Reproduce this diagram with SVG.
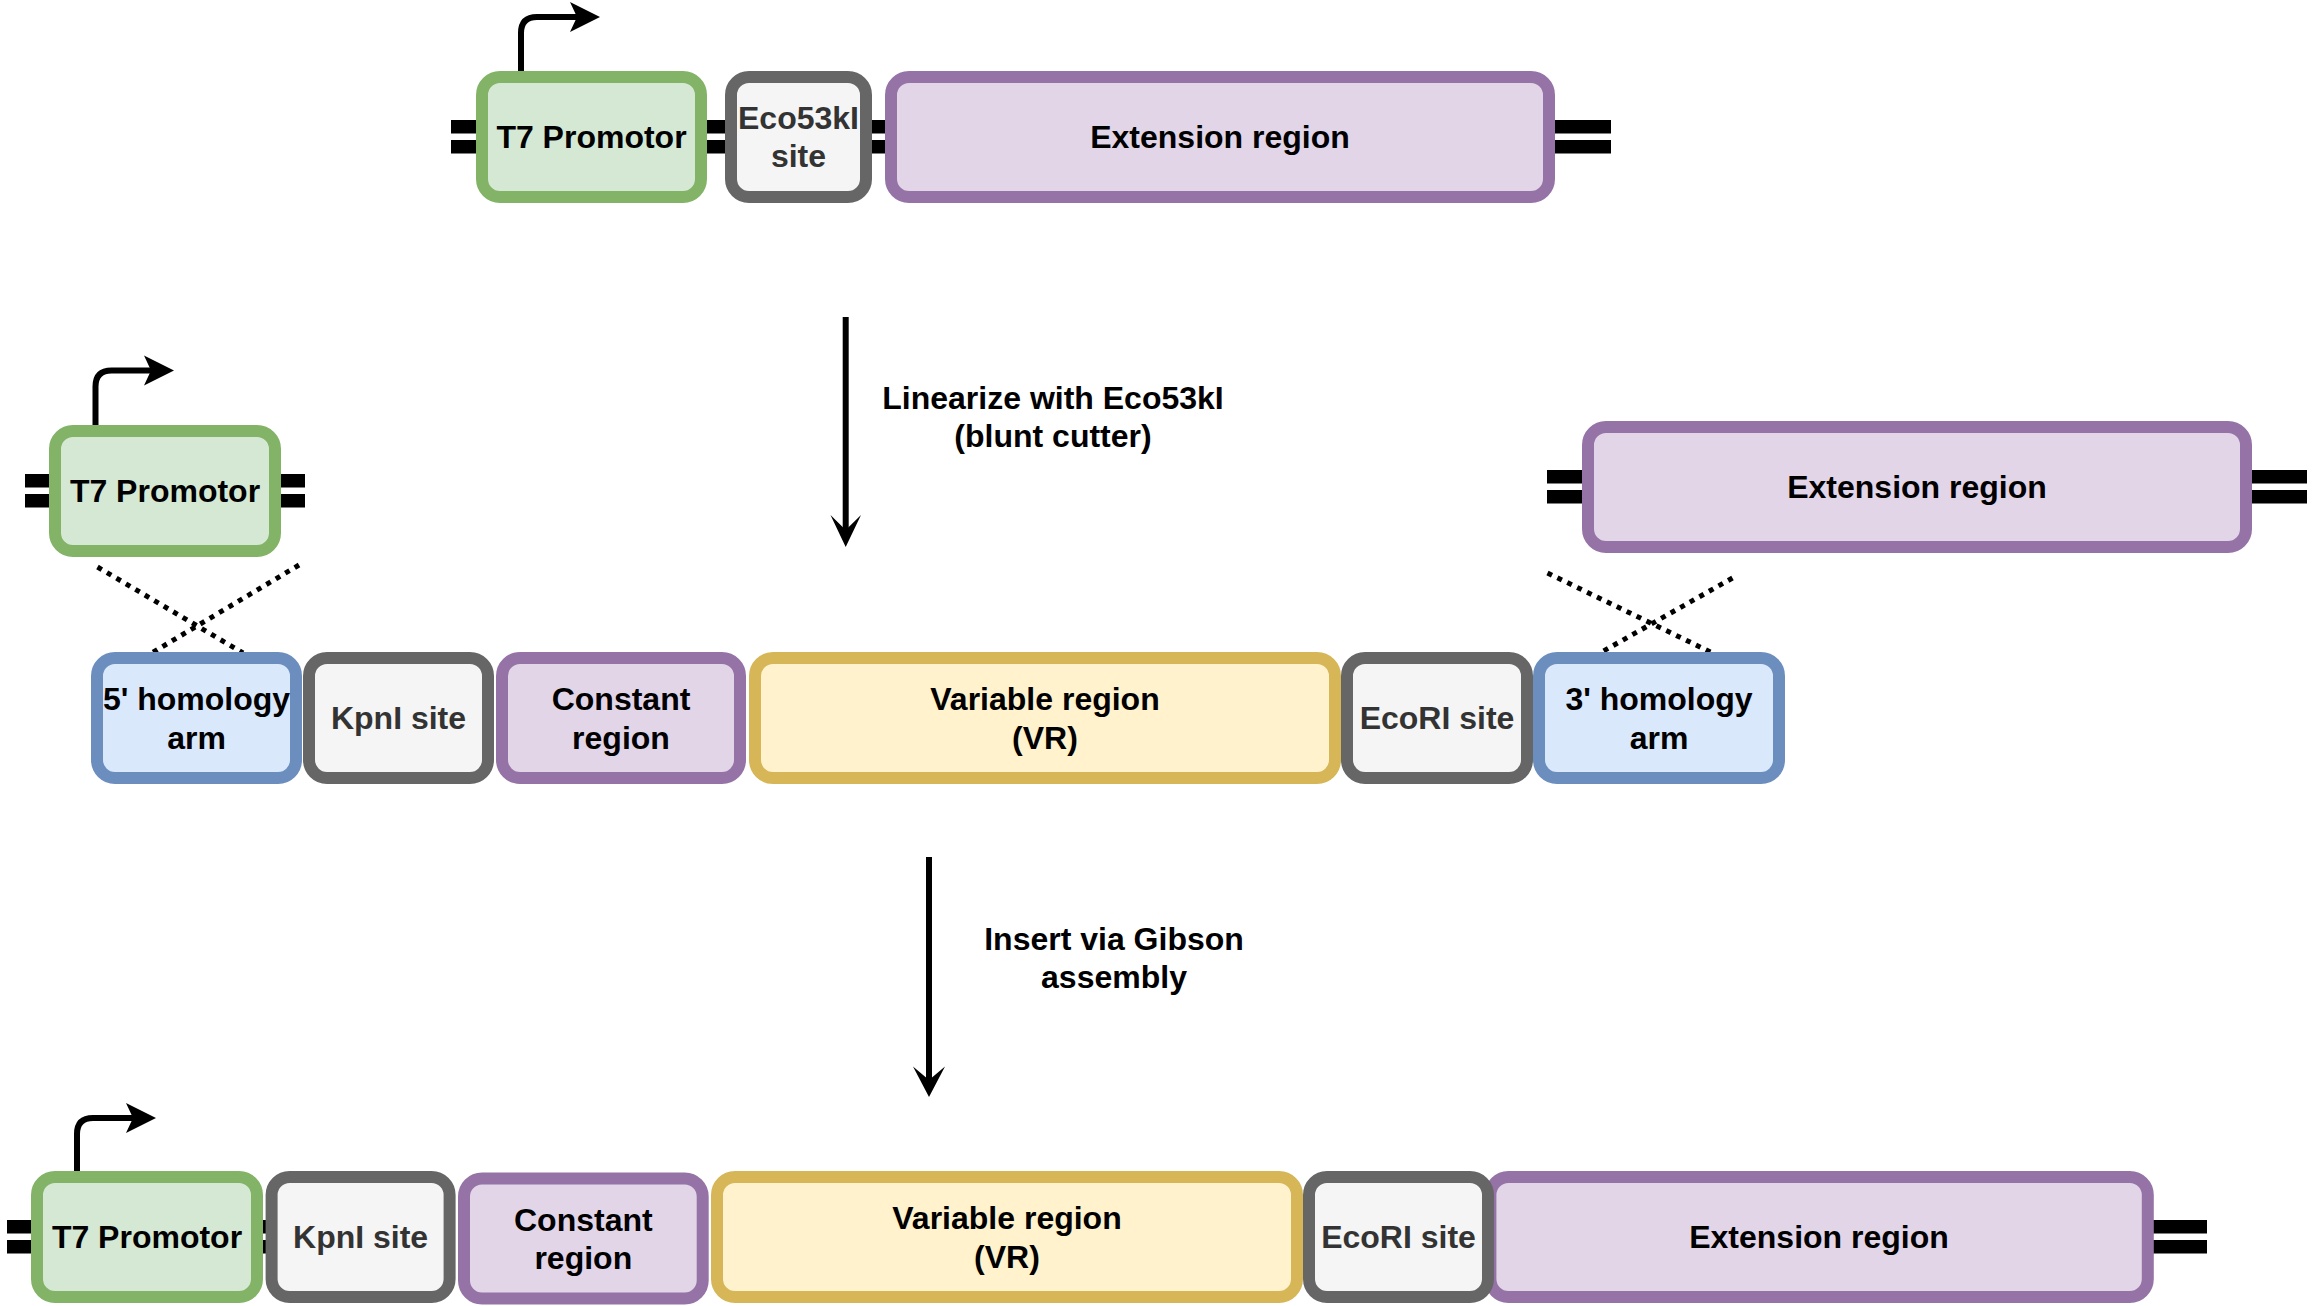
<svg xmlns="http://www.w3.org/2000/svg" width="2314" height="1306" viewBox="0 0 2314 1306">
<style>
.box{stroke-width:12}
.green{fill:#d5e8d4;stroke:#82b366}
.gray{fill:#f5f5f5;stroke:#666666}
.purple{fill:#e1d5e7;stroke:#9673a6}
.yellow{fill:#fff2cc;stroke:#d6b656}
.blue{fill:#dae8fc;stroke:#6c8ebf}
text{font-family:"Liberation Sans",Arial,Helvetica,sans-serif;font-weight:bold;font-size:32px;text-anchor:middle;fill:#000000}
text.dark{fill:#333333}
.stub{fill:#000000}
.prom{fill:none;stroke:#000000;stroke-width:6}
.big{fill:none;stroke:#000000;stroke-width:6}
.dot{fill:none;stroke:#000000;stroke-width:5;stroke-dasharray:5 6}
.head{fill:#000000}
</style>
<rect width="2314" height="1306" fill="#ffffff"/>

<g id="backbone">
  <!-- top row -->
  <rect class="stub" x="451" y="120" width="27" height="13.5"/>
  <rect class="stub" x="451" y="140" width="27" height="13.5"/>
  <rect class="stub" x="705" y="120" width="26" height="13.5"/>
  <rect class="stub" x="705" y="140" width="26" height="13.5"/>
  <rect class="stub" x="865" y="120" width="26" height="13.5"/>
  <rect class="stub" x="865" y="140" width="26" height="13.5"/>
  <rect class="stub" x="1554" y="120" width="57" height="13.5"/>
  <rect class="stub" x="1554" y="140" width="57" height="13.5"/>
  <!-- middle top -->
  <rect class="stub" x="25" y="474" width="26" height="13.5"/>
  <rect class="stub" x="25" y="494" width="26" height="13.5"/>
  <rect class="stub" x="279" y="474" width="26" height="13.5"/>
  <rect class="stub" x="279" y="494" width="26" height="13.5"/>
  <rect class="stub" x="1547" y="470" width="42" height="13.5"/>
  <rect class="stub" x="1547" y="490" width="42" height="13.5"/>
  <rect class="stub" x="2251" y="470" width="56" height="13.5"/>
  <rect class="stub" x="2251" y="490" width="56" height="13.5"/>
  <!-- bottom row -->
  <rect class="stub" x="7" y="1220" width="26" height="13.5"/>
  <rect class="stub" x="7" y="1240" width="26" height="13.5"/>
  <rect class="stub" x="261" y="1220" width="7" height="13.5"/>
  <rect class="stub" x="261" y="1240" width="7" height="13.5"/>
  <rect class="stub" x="2152" y="1220" width="55" height="13.5"/>
  <rect class="stub" x="2152" y="1240" width="55" height="13.5"/>
</g>

<g id="connectors">
  <!-- promoter arrows -->
  <path class="prom" d="M521 71 V33 Q521 17 537 17 H578"/>
  <polygon class="head" points="600,17 570,2 577,17 570,32"/>
  <path class="prom" d="M95.5 425 V386.5 Q95.5 370.5 111.5 370.5 H152"/>
  <polygon class="head" points="174,370.5 144,355.5 151,370.5 144,385.5"/>
  <path class="prom" d="M77 1171 V1134 Q77 1118 93 1118 H134"/>
  <polygon class="head" points="156,1118 126,1103 133,1118 126,1133"/>
  <!-- process arrows -->
  <path class="big" d="M845.7 317 V532"/>
  <polygon class="head" points="845.7,547 830.5,515 845.7,530 861,515"/>
  <path class="big" d="M929 857 V1082"/>
  <polygon class="head" points="929,1097 913,1066.5 929,1080 945,1066.5"/>
  <!-- crossover lines -->
  <path class="dot" d="M97.5 567 L243 653"/>
  <path class="dot" d="M299 565 L151.7 653"/>
  <path class="dot" d="M1547.5 573 L1712.5 653"/>
  <path class="dot" d="M1732.5 578 L1600 653"/>
</g>

<g id="labels">
  <text x="1053" y="409">Linearize with Eco53kI</text>
  <text x="1053" y="447">(blunt cutter)</text>
  <text x="1114" y="950">Insert via Gibson</text>
  <text x="1114" y="988">assembly</text>
</g>

<!-- top row -->
<g id="top-t7"><rect class="box green" x="482" y="77" width="219" height="120" rx="18"/><text x="591.5" y="148">T7 Promotor</text></g>
<g id="top-eco53ki"><rect class="box gray" x="731" y="77" width="135" height="120" rx="18"/><text class="dark" x="798.5" y="129">Eco53kI</text><text class="dark" x="798.5" y="167">site</text></g>
<g id="top-extension"><rect class="box purple" x="891" y="77" width="658" height="120" rx="18"/><text x="1220" y="148">Extension region</text></g>

<!-- middle top -->
<g id="mid-t7"><rect class="box green" x="55" y="431" width="220" height="120" rx="18"/><text x="165" y="502">T7 Promotor</text></g>
<g id="mid-extension"><rect class="box purple" x="1588" y="427" width="658" height="120" rx="18"/><text x="1917" y="498">Extension region</text></g>

<!-- insert row -->
<g id="ins-5arm"><rect class="box blue" x="97" y="658" width="199" height="120" rx="18"/><text x="196.5" y="710">5' homology</text><text x="196.5" y="749">arm</text></g>
<g id="ins-kpni"><rect class="box gray" x="309" y="658" width="179" height="120" rx="18"/><text class="dark" x="398.5" y="729">KpnI site</text></g>
<g id="ins-constant"><rect class="box purple" x="502" y="658" width="238" height="120" rx="18"/><text x="621" y="710">Constant</text><text x="621" y="749">region</text></g>
<g id="ins-variable"><rect class="box yellow" x="755" y="658" width="580" height="120" rx="18"/><text x="1045" y="710">Variable region</text><text x="1045" y="749">(VR)</text></g>
<g id="ins-ecori"><rect class="box gray" x="1347" y="658" width="180" height="120" rx="18"/><text class="dark" x="1437" y="729">EcoRI site</text></g>
<g id="ins-3arm"><rect class="box blue" x="1539" y="658" width="240" height="120" rx="18"/><text x="1659" y="710">3' homology</text><text x="1659" y="749">arm</text></g>

<!-- bottom row -->
<g id="bot-t7"><rect class="box green" x="37" y="1177" width="220" height="120" rx="18"/><text x="147" y="1248">T7 Promotor</text></g>
<g id="bot-kpni"><rect class="box gray" x="271.6" y="1177" width="178" height="120" rx="18"/><text class="dark" x="360.6" y="1248">KpnI site</text></g>
<g id="bot-constant"><rect class="box purple" x="464" y="1178.5" width="238.7" height="120" rx="18"/><text x="583.3" y="1230.5">Constant</text><text x="583.3" y="1269">region</text></g>
<g id="bot-variable"><rect class="box yellow" x="717" y="1177" width="580" height="120" rx="18"/><text x="1007" y="1229">Variable region</text><text x="1007" y="1268">(VR)</text></g>
<g id="bot-extension"><rect class="box purple" x="1490.4" y="1177" width="657.4" height="120" rx="18"/><text x="1819" y="1248">Extension region</text></g>
<g id="bot-ecori"><rect class="box gray" x="1309" y="1177" width="179" height="120" rx="18"/><text class="dark" x="1398.5" y="1248">EcoRI site</text></g>
</svg>
